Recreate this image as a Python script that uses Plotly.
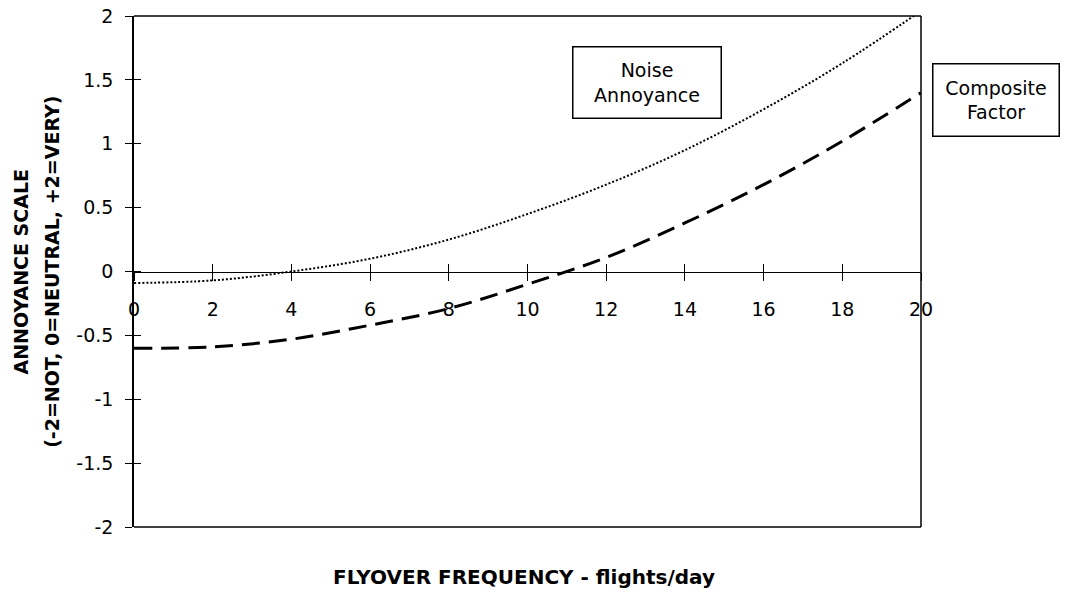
import plotly.graph_objects as go

# Data
flights = [0, 2, 4, 6, 8, 10, 12, 14, 16, 18, 20]
noise_annoyance = [-0.09, -0.07, 0.0, 0.10, 0.25, 0.45, 0.68, 0.95, 1.27, 1.63, 2.04]
composite_factor = [-0.60, -0.59, -0.53, -0.42, -0.29, -0.10, 0.11, 0.38, 0.68, 1.02, 1.40]

x_ticks = [0, 2, 4, 6, 8, 10, 12, 14, 16, 18, 20]
y_ticks = [-2, -1.5, -1, -0.5, 0, 0.5, 1, 1.5, 2]
y_ticktext = ["-2", "-1.5", "-1", "-0.5", "0", "0.5", "1", "1.5", "2"]

FONT = "DejaVu Sans"

fig = go.Figure()
fig.add_trace(go.Scatter(
    x=flights, y=noise_annoyance, mode="lines", name="Noise Annoyance",
    line=dict(color="black", width=2, dash="2px,2px", shape="spline"),
    cliponaxis=False, showlegend=False, hoverinfo="skip"))
fig.add_trace(go.Scatter(
    x=flights, y=composite_factor, mode="lines", name="Composite Factor",
    line=dict(color="black", width=3, dash="18px,9px", shape="spline"),
    cliponaxis=False, showlegend=False, hoverinfo="skip"))
# invisible helper trace for the second set of axes (inner tick halves)
fig.add_trace(go.Scatter(x=[0], y=[0], xaxis="x2", yaxis="y2", mode="markers",
                         marker=dict(opacity=0), showlegend=False, hoverinfo="skip"))

frame = dict(color="black", width=1.5)

fig.update_layout(
    width=1069, height=590,
    margin=dict(l=134, r=148, t=16, b=63, autoexpand=False),
    paper_bgcolor="white", plot_bgcolor="white",
    font=dict(family=FONT, color="black"),
    xaxis=dict(
        range=[0, 20], tickvals=x_ticks, ticktext=[str(v) for v in x_ticks],
        anchor="free", position=0.5, automargin=False,
        showline=True, linecolor="black", linewidth=1,
        ticks="outside", ticklen=8, tickcolor="black", tickwidth=1,
        ticklabelstandoff=13, ticklabeloverflow="allow",
        showgrid=False, zeroline=False,
        tickfont=dict(size=19, family=FONT),
    ),
    xaxis2=dict(
        range=[0, 20], tickvals=x_ticks, overlaying="x", matches="x",
        anchor="free", position=0.5, automargin=False,
        showline=False, ticks="inside", ticklen=8, tickcolor="black", tickwidth=1,
        showticklabels=False, showgrid=False, zeroline=False,
    ),
    yaxis=dict(
        range=[-2, 2], tickvals=y_ticks, ticktext=y_ticktext, automargin=False,
        showline=True, linecolor="black", linewidth=1.5,
        ticks="outside", ticklen=7, tickcolor="black", tickwidth=1,
        ticklabelstandoff=8, ticklabeloverflow="allow",
        showgrid=False, zeroline=False,
        tickfont=dict(size=19, family=FONT),
    ),
    yaxis2=dict(
        range=[-2, 2], tickvals=y_ticks, overlaying="y", matches="y",
        anchor="x", side="left", automargin=False,
        showline=False, ticks="inside", ticklen=7, tickcolor="black", tickwidth=1,
        showticklabels=False, showgrid=False, zeroline=False,
    ),
    shapes=[
        dict(type="line", xref="paper", yref="paper", x0=0, x1=1, y0=1, y1=1, line=frame),
        dict(type="line", xref="paper", yref="paper", x0=0, x1=1, y0=0, y1=0, line=frame),
        dict(type="line", xref="paper", yref="paper", x0=1, x1=1, y0=0, y1=1, line=frame),
    ],
    annotations=[
        dict(text="<b>FLYOVER FREQUENCY - flights/day</b>", xref="paper", yref="paper",
             x=0.495, y=-0.098, xanchor="center", yanchor="middle", showarrow=False,
             font=dict(size=20, family=FONT)),
        dict(text="<b>ANNOYANCE SCALE</b>", xref="paper", yref="paper",
             x=-0.1436, y=0.5, xanchor="center", yanchor="middle", textangle=-90,
             showarrow=False, font=dict(size=19, family=FONT)),
        dict(text="<b>(-2=NOT, 0=NEUTRAL, +2=VERY)</b>", xref="paper", yref="paper",
             x=-0.105, y=0.5, xanchor="center", yanchor="middle", textangle=-90,
             showarrow=False, font=dict(size=19, family=FONT)),
        dict(text="Noise<br>Annoyance", xref="paper", yref="paper",
             x=0.652, y=0.869, xanchor="center", yanchor="middle",
             showarrow=False, align="center",
             font=dict(size=19, family=FONT), bordercolor="black", borderwidth=1.5,
             borderpad=1, width=145, height=68, bgcolor="white"),
        dict(text="Composite<br>Factor", xref="paper", yref="paper",
             x=1.095, y=0.836, xanchor="center", yanchor="middle",
             showarrow=False, align="center",
             font=dict(size=19, family=FONT), bordercolor="black", borderwidth=1.5,
             borderpad=1, width=123, height=69, bgcolor="white"),
    ],
)

# remove the browser's default page margin so the figure fills the window exactly
fig.write_html("out.html", config={"displayModeBar": False},
               post_script="document.body.style.margin='0px';")
